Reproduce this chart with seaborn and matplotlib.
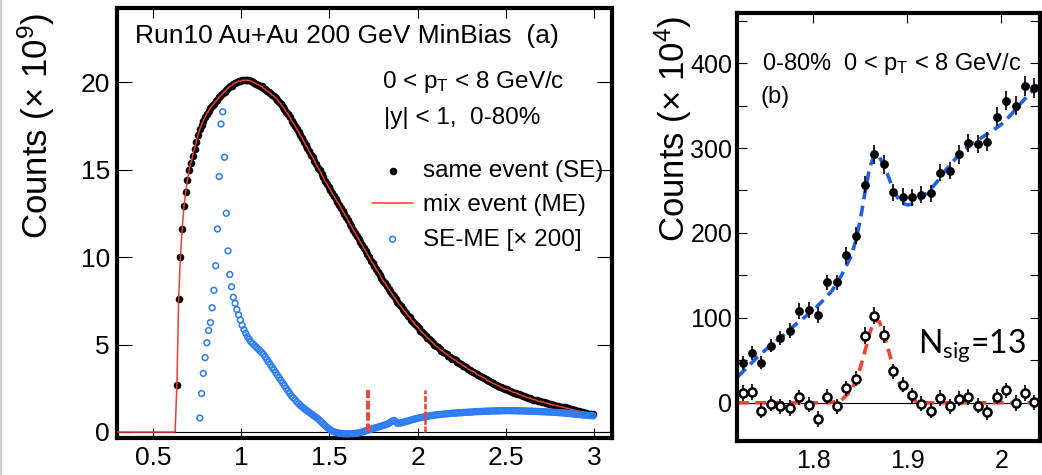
import numpy as np
import matplotlib
matplotlib.use("Agg")
import matplotlib.pyplot as plt
from matplotlib.lines import Line2D
from matplotlib.ticker import FixedLocator, MultipleLocator, FuncFormatter
import seaborn as sns

# ------------------------------------------------------------------ data
# panel (a): invariant-mass spectra, 0.01 GeV/c^2 bins
se_first_bin = 0.635
se_counts = [
    2.7, 7.6, 10.0, 11.6, 12.9, 13.7, 14.4, 15.0, 15.4, 15.8,
    16.2, 16.6, 16.95, 17.3, 17.55, 17.8, 18.0, 18.2, 18.35, 18.5,
    18.65, 18.75, 18.9, 19.0, 19.15, 19.25, 19.35, 19.45, 19.55, 19.65,
    19.75, 19.8, 19.9, 19.95, 20.0, 20.05, 20.05, 20.1, 20.1, 20.1,
    20.1, 20.1, 20.05, 20.0, 19.95, 19.9, 19.85, 19.8, 19.75, 19.65,
    19.6, 19.5, 19.45, 19.35, 19.25, 19.2, 19.1, 19.0, 18.85, 18.75,
    18.6, 18.45, 18.3, 18.15, 18.0, 17.8, 17.65, 17.5, 17.3, 17.15,
    16.95, 16.8, 16.6, 16.4, 16.25, 16.05, 15.85, 15.7, 15.5, 15.3,
    15.1, 14.95, 14.75, 14.55, 14.35, 14.2, 14.0, 13.85, 13.65, 13.5,
    13.3, 13.15, 13.0, 12.8, 12.65, 12.45, 12.3, 12.1, 11.9, 11.75,
    11.55, 11.4, 11.2, 11.05, 10.85, 10.7, 10.5, 10.35, 10.15, 10.0,
    9.8, 9.65, 9.5, 9.3, 9.15, 9.0, 8.8, 8.65, 8.5, 8.35,
    8.2, 8.05, 7.9, 7.75, 7.6, 7.45, 7.3, 7.2, 7.05, 6.9,
    6.8, 6.65, 6.55, 6.4, 6.3, 6.15, 6.05, 5.95, 5.8, 5.7,
    5.6, 5.5, 5.4, 5.3, 5.2, 5.1, 5.0, 4.9, 4.85, 4.75,
    4.65, 4.6, 4.5, 4.45, 4.35, 4.3, 4.2, 4.15, 4.1, 4.0,
    3.95, 3.9, 3.8, 3.75, 3.7, 3.6, 3.55, 3.5, 3.45, 3.4,
    3.3, 3.25, 3.2, 3.15, 3.1, 3.05, 2.95, 2.9, 2.85, 2.8,
    2.75, 2.7, 2.65, 2.6, 2.55, 2.5, 2.45, 2.45, 2.4, 2.35,
    2.3, 2.25, 2.25, 2.2, 2.15, 2.1, 2.05, 2.05, 2.0, 1.95,
    1.95, 1.9, 1.85, 1.85, 1.8, 1.75, 1.75, 1.7, 1.7, 1.65,
    1.65, 1.6, 1.6, 1.55, 1.55, 1.5, 1.5, 1.45, 1.45, 1.4,
    1.4, 1.35, 1.35, 1.3, 1.3, 1.25, 1.25, 1.2, 1.2, 1.15,
    1.15, 1.1, 1.1, 1.05, 1.05, 1.0, 1.0,
]
me_threshold_mass = [0.30, 0.625]
me_threshold_counts = [0.0, 0.0]

sub_first_bin = 0.765
sub_counts = [
    0.8, 2.2, 3.35, 4.25, 5.1, 5.8, 6.25, 7.1, 8.1, 9.5,
    11.6, 14.6, 17.6, 18.3, 15.7, 12.5, 10.35, 9.0, 8.3, 7.7,
    7.35, 7.0, 6.7, 6.4, 6.1, 5.85, 5.65, 5.45, 5.3, 5.15,
    5.05, 4.95, 4.85, 4.75, 4.65, 4.55, 4.45, 4.3, 4.15, 4.0,
    3.85, 3.7, 3.55, 3.4, 3.25, 3.1, 2.95, 2.8, 2.65, 2.5,
    2.35, 2.2, 2.05, 1.95, 1.85, 1.72, 1.62, 1.52, 1.43, 1.35,
    1.27, 1.2, 1.12, 1.05, 0.98, 0.9, 0.83, 0.75, 0.66, 0.56,
    0.46, 0.37, 0.28, 0.2, 0.12, 0.06, 0.02, -0.02, -0.05, -0.07,
    -0.08, -0.1, -0.1, -0.11, -0.1, -0.1, -0.1, -0.09, -0.08, -0.07,
    -0.05, -0.03, 0.0, 0.03, 0.06, 0.1, 0.13, 0.16, 0.19, 0.22,
    0.25, 0.28, 0.31, 0.34, 0.37, 0.4, 0.44, 0.48, 0.55, 0.62,
    0.66, 0.6, 0.5, 0.5, 0.52, 0.55, 0.58, 0.6, 0.63, 0.66,
    0.69, 0.72, 0.75, 0.77, 0.8, 0.82, 0.84, 0.86, 0.88, 0.9,
    0.92, 0.93, 0.95, 0.96, 0.98, 0.99, 1.0, 1.01, 1.02, 1.03,
    1.04, 1.05, 1.06, 1.07, 1.08, 1.08, 1.09, 1.1, 1.1, 1.11,
    1.12, 1.12, 1.13, 1.14, 1.14, 1.15, 1.16, 1.16, 1.17, 1.17,
    1.18, 1.18, 1.19, 1.19, 1.19, 1.2, 1.2, 1.2, 1.21, 1.21,
    1.21, 1.21, 1.22, 1.22, 1.22, 1.22, 1.22, 1.22, 1.22, 1.21,
    1.21, 1.21, 1.21, 1.2, 1.2, 1.2, 1.2, 1.19, 1.19, 1.18,
    1.18, 1.18, 1.17, 1.17, 1.16, 1.16, 1.15, 1.15, 1.14, 1.14,
    1.13, 1.12, 1.12, 1.11, 1.1, 1.1, 1.09, 1.08, 1.07, 1.06,
    1.05, 1.04, 1.03, 1.02, 1.01, 1.0, 0.99, 0.98, 0.97, 0.96,
    0.95, 0.94, 0.93, 0.92,
]
window_edges = [1.72, 2.04]
window_marker_height = 2.4

# panel (b): zoom on D0 region
zoom_mass = [1.725, 1.735, 1.745, 1.755, 1.765, 1.775, 1.785, 1.795,
             1.805, 1.815, 1.825, 1.835, 1.845, 1.855, 1.865, 1.875,
             1.885, 1.895, 1.905, 1.915, 1.925, 1.935, 1.945, 1.955,
             1.965, 1.975, 1.985, 1.995, 2.005, 2.015, 2.025, 2.035]
zoom_se = [46.7, 58.5, 47.4, 67.4, 76, 85, 108, 109.4,
           103.5, 142, 142, 174, 196.5, 257, 292.5, 281,
           248, 242.7, 242, 244.7, 246.7, 271, 273, 292.6,
           306, 304.7, 307.4, 336.8, 355.7, 349.8, 373, 371]
zoom_se_err = [8, 8, 8, 8, 8, 9, 9, 9,
               9, 9, 9, 10, 10, 10, 11, 11,
               10, 10, 10, 10, 10, 10, 10, 11,
               11, 11, 11, 11, 11, 11, 12, 12]
zoom_sig = [11.4, 12.6, -9.4, -1.2, -4.3, -6.3, 6.3, -2.4,
            -19.2, 7.4, -4.3, 17.2, 28.2, 78.8, 102.4, 80,
            36.9, 21.2, 8.6, -1.2, -9.4, 5.5, -4.3, 4.7,
            6.7, -3.5, -11.4, 7.4, 14.5, -0.4, 11.4, 0.4]
zoom_sig_err = [9, 9, 9, 9, 9, 9, 9, 9,
                9, 9, 9, 9, 9, 10, 10, 10,
                9, 9, 9, 9, 9, 9, 9, 9,
                9, 9, 9, 9, 9, 9, 9, 9]
fit_mass = [1.72, 1.73, 1.74, 1.75, 1.76, 1.77, 1.78, 1.79, 1.80, 1.81,
            1.82, 1.83, 1.84, 1.845, 1.85, 1.855, 1.86, 1.865, 1.87, 1.875,
            1.88, 1.885, 1.89, 1.895, 1.90, 1.905, 1.91, 1.92, 1.93, 1.94,
            1.95, 1.96, 1.97, 1.98, 1.99, 2.00, 2.01, 2.02, 2.03, 2.04]
fit_total = [31, 42, 53, 63, 72, 81, 91, 100, 109, 120,
             132, 150, 172, 190, 215, 248, 277, 292, 290, 280,
             266, 251, 241, 235, 233, 234, 237, 246, 258, 273,
             286, 297, 306, 313, 320, 328, 339, 352, 364, 376]
fit_signal = [0, 0, 0, 0, 0, 0, 0, 0, 0, 0,
              0.5, 3, 14, 25, 41, 61, 82, 97, 96, 82,
              62, 42, 26, 15, 8, 3.5, 1.5, 0, 0, 0,
              0, 0, 0, 0, 0, 0, 0, 0, 0, 0]

left_xticks = [0.5, 1, 1.5, 2, 2.5, 3]
left_yticks = [0, 5, 10, 15, 20]
right_xticks = [1.8, 1.9, 2.0]
right_yticks = [0, 100, 200, 300, 400]

# ------------------------------------------------------------------ style
sns.set_theme(style="ticks")
plt.rcParams['font.family'] = ['Liberation Sans', 'DejaVu Sans']
plt.rcParams.update({
    'mathtext.fontset': 'custom',
    'mathtext.rm': 'Liberation Sans',
    'mathtext.it': 'Liberation Sans:italic',
    'mathtext.bf': 'Liberation Sans:bold',
    'text.color': 'black', 'axes.labelcolor': 'black',
    'xtick.color': 'black', 'ytick.color': 'black',
    'axes.edgecolor': 'black',
})

BLACK = 'black'
RED = '#e8402e'
BLUE_PTS = '#2f7df6'
BLUE_FIT = '#1f5fe8'
RED_FIT = '#ee4433'

fig = plt.figure(figsize=(10.42, 4.75), dpi=100)
fig.patch.set_facecolor('white')
axL = fig.add_axes([117 / 1042, 1 - 438 / 475, 495 / 1042, 430 / 475])
axR = fig.add_axes([737 / 1042, 1 - 441 / 475, 303 / 1042, 428 / 475])

# ------------------------------------------------------------------ panel (a)
se_mass = se_first_bin + 0.01 * np.arange(len(se_counts))
sub_mass = sub_first_bin + 0.01 * np.arange(len(sub_counts))
me_mass = np.concatenate([me_threshold_mass, se_mass])
me_counts = me_threshold_counts + se_counts

axL.axhline(0, color=BLACK, lw=0.8, zorder=1)
sns.scatterplot(x=se_mass, y=se_counts, ax=axL, color=BLACK, s=30,
                linewidth=0, marker='o', zorder=2, label='same event (SE)')
sns.lineplot(x=me_mass, y=me_counts, ax=axL, color=RED, lw=1.1, zorder=3,
             sort=False, estimator=None, label='mix event (ME)')
sns.scatterplot(x=sub_mass, y=sub_counts, ax=axL, marker='o', s=17,
                color=BLUE_PTS, facecolor='none', edgecolor=BLUE_PTS,
                linewidth=1.15, zorder=4, label='SE-ME [× 200]')
for i, xe in enumerate(window_edges):
    sns.lineplot(x=[xe, xe], y=[0, window_marker_height], ax=axL,
                 color=RED_FIT, lw=2.8 if i == 0 else 1.9,
                 linestyle=(0, (2.2, 0.7)), zorder=5,
                 sort=False, estimator=None)

axL.set_xlim(0.2955, 3.102)
axL.set_ylim(-0.343, 24.23)
axL.xaxis.set_major_locator(FixedLocator(left_xticks))
axL.yaxis.set_major_locator(FixedLocator(left_yticks))
axL.xaxis.set_major_formatter(FuncFormatter(lambda v, p: f'{v:g}'))
axL.yaxis.set_major_formatter(FuncFormatter(lambda v, p: f'{v:g}'))
axL.tick_params(axis='both', which='major', direction='in', top=True,
                right=True, width=0.8, labelsize=19)
axL.tick_params(axis='x', length=7.2, pad=6)
axL.tick_params(axis='y', length=10.8, pad=5)
axL.set_xlabel('')
axL.set_ylabel('Counts (× 10$^{\\mathregular{9}}$)', fontsize=25)
axL.yaxis.set_label_coords(-0.122, 0.726)

axL.text(0.398, 22.23, 'Run10 Au+Au 200 GeV MinBias  (a)', fontsize=19,
         va='baseline', ha='left')
axL.text(1.80, 19.64, '0 < p$_{\\mathregular{T}}$ < 8 GeV/c', fontsize=17.5,
         va='baseline', ha='left')
axL.text(1.808, 17.6, '|y| < 1,  0-80%', fontsize=17.5, va='baseline',
         ha='left')

h, l = axL.get_legend_handles_labels()
hm = dict(zip(l, h))
order = ['same event (SE)', 'mix event (ME)', 'SE-ME [× 200]']
axL.legend([hm[k] for k in order], order, loc='upper left',
           bbox_to_anchor=(0.515, 0.646), frameon=False, fontsize=17.5,
           handlelength=1.7, handletextpad=0.4, labelspacing=0.5,
           borderpad=0, borderaxespad=0, scatterpoints=1, numpoints=1)

# ------------------------------------------------------------------ panel (b)
axR.axhline(0, color=BLACK, lw=0.8, zorder=1)
sns.lineplot(x=fit_mass, y=fit_total, ax=axR, color=BLUE_FIT, lw=2.6,
             linestyle=(0, (3, 1.8)), zorder=2, estimator=None)
sns.lineplot(x=fit_mass, y=fit_signal, ax=axR, color=RED_FIT, lw=2.6,
             linestyle=(0, (3, 1.8)), zorder=2, estimator=None)
axR.errorbar(zoom_mass, zoom_se, yerr=zoom_se_err, fmt='none',
             ecolor=BLACK, elinewidth=1.2, capsize=0, zorder=3)
axR.errorbar(zoom_mass, zoom_sig, yerr=zoom_sig_err, fmt='none',
             ecolor=BLACK, elinewidth=1.2, capsize=0, zorder=3)
sns.scatterplot(x=zoom_mass, y=zoom_se, ax=axR, color=BLACK, s=40,
                linewidth=0, marker='o', zorder=4)
sns.scatterplot(x=zoom_mass, y=zoom_sig, ax=axR, color=BLACK, s=34,
                facecolor='white', edgecolor=BLACK, linewidth=1.8,
                marker='o', zorder=4)

axR.set_xlim(1.719, 2.041)
axR.set_ylim(-45, 459)
axR.xaxis.set_major_locator(FixedLocator(right_xticks))
axR.yaxis.set_major_locator(FixedLocator(right_yticks))
axR.yaxis.set_minor_locator(MultipleLocator(50))
axR.xaxis.set_major_formatter(FuncFormatter(lambda v, p: f'{v:g}'))
axR.yaxis.set_major_formatter(FuncFormatter(lambda v, p: f'{v:g}'))
axR.tick_params(axis='x', which='both', direction='in', top=True,
                bottom=False, labelbottom=True, length=7.2, width=0.8,
                labelsize=18, pad=6)
axR.tick_params(axis='y', which='both', direction='in', left=True,
                right=True, length=7.2, width=0.8, labelsize=18, pad=3.5)
axR.set_xlabel('')
axR.set_ylabel('Counts (× 10$^{\\mathregular{4}}$)', fontsize=25)
axR.yaxis.set_label_coords(-0.142, 0.729)

axR.text(1.7454, 391.8, '0-80%  0 < p$_{\\mathregular{T}}$ < 8 GeV/c',
         fontsize=17, va='baseline', ha='left')
axR.text(1.7436, 352.6, '(b)', fontsize=17, va='baseline', ha='left')
axR.text(1.9114, 58.5, 'N$_{\\mathregular{sig}}$=13', fontsize=23,
         family=['Lato', 'DejaVu Sans'], va='baseline', ha='left')

for ax in (axL, axR):
    for s in ax.spines.values():
        s.set_visible(True)
        s.set_linewidth(3)
        s.set_color(BLACK)

fig.add_artist(Line2D([0.6 / 1042, 0.6 / 1042], [0, 1], color='#c8c8c8',
                      lw=1.2, transform=fig.transFigure))

fig.savefig('out.png', dpi=100, facecolor='white')
